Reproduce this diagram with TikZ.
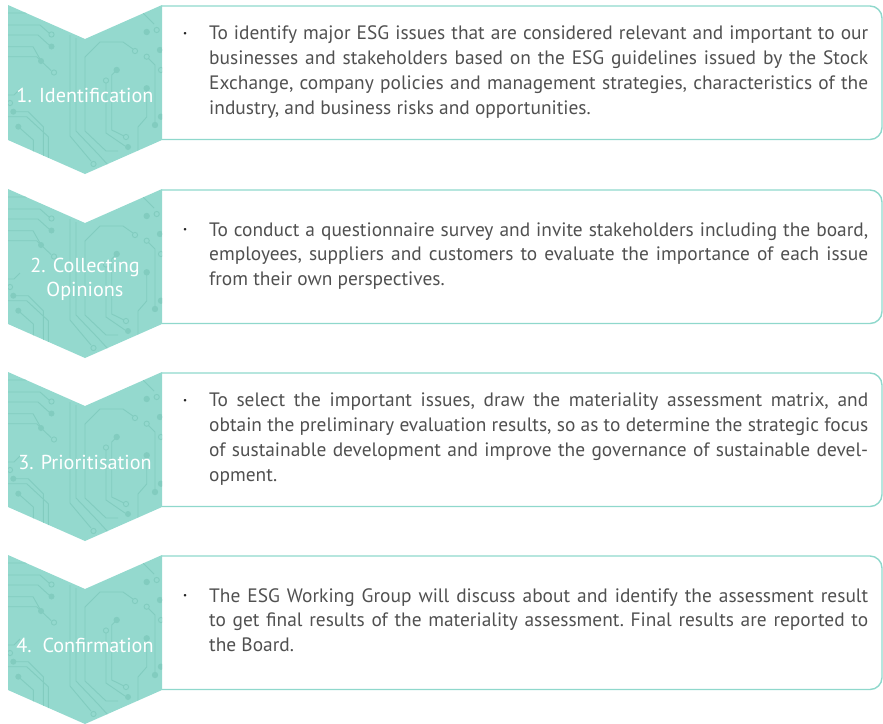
\documentclass[tikz,border=0pt]{standalone}
\usepackage{fontspec}
\setmainfont{PT Sans}

\definecolor{chev}{HTML}{94D9CE}
\definecolor{trace}{HTML}{82CCBF}
\definecolor{frame}{HTML}{8FD8CC}
\definecolor{bodygray}{HTML}{505050}

\tikzset{
  chevron/.style={fill=chev, draw=none},
  tracks/.style={draw=trace, line width=0.9pt},
  pad/.style={fill=trace},
  ring/.style={draw=trace, line width=0.9pt, fill=chev},
  frameline/.style={draw=frame, line width=1.4pt, rounded corners=12pt},
  bodytext/.style={text=bodygray, font=\fontsize{19.4}{24.8}\selectfont\frenchspacing,
    text width=659pt, align=justify, inner sep=0pt, anchor=west},
  steplabel/.style={text=white, font=\fontsize{20.2}{24}\selectfont,
    align=center, inner sep=0pt},
}

% decorative circuit traces, local coordinates of one chevron
\newcommand\circuitpattern{%
  \draw[tracks] (-2,20) -- (32,20) -- (41,28);
  \draw[tracks] (-2,30) -- (30,30) -- (41,40);
  \draw[tracks] (-2,41.7) -- (25,41.7) -- (32,54);
  \draw[tracks] (-2,51.7) -- (28.7,51.7) -- (43,65.5);
  \draw[tracks] (-2,8) -- (20,8) -- (26,3);
  \draw[tracks] (62,30) -- (62,131) -- (83,156);
  \draw[tracks] (68,33) -- (68,126) -- (90,149) -- (100,160);
  \draw[tracks] (77,52) -- (77,126) -- (98,146) -- (110,146);
  \draw[tracks] (77,52) -- (92,37) -- (115,37) -- (125,44);
  \draw[tracks] (108.7,65) -- (103.7,70) -- (103.7,125) -- (116,131);
  \draw[tracks] (98,78) -- (98,128) -- (117,141);
  \draw[tracks] (140.5,53.5) -- (147,60) -- (147,118);
  \draw[tracks] (138.7,83.3) -- (138.7,112) -- (130,122) -- (130,150);
  \draw[tracks] (135,8) -- (146,19);
  \draw[tracks] (5.3,106.7) -- (20.3,106.7) -- (35.3,121.7) -- (35.3,160);
  \draw[tracks] (10.3,121.7) -- (25.3,135) -- (25.3,160);
  \draw[tracks] (-2,111.7) -- (18.7,111.7) -- (40.3,131.7) -- (40.3,160);
  \draw[tracks] (-2,90) -- (6,90) -- (12,84);
  \draw[ring] (43.5,29.5) circle (2.6);
  \fill[pad] (43.5,41.5) circle (3);
  \fill[pad] (33,56) circle (3);
  \draw[ring] (46,67.5) circle (2.6);
  \draw[ring] (85.5,159) circle (2.6);
  \draw[ring] (127,46) circle (2.6);
  \fill[pad] (108.7,65) circle (3.2);
  \draw[ring] (118,132) circle (2.6);
  \draw[ring] (98,75.5) circle (2.6);
  \fill[pad] (120,142) circle (3);
  \fill[pad] (138.7,27) circle (3.2);
  \draw[ring] (148.7,25) circle (2.6);
  \fill[pad] (152,45) circle (3.2);
  \draw[ring] (138.7,51.7) circle (2.6);
  \fill[pad] (147,120) circle (3.2);
  \fill[pad] (138.7,83.3) circle (3.2);
  \draw[ring] (153,65) circle (2.6);
  \fill[pad] (153,111.7) circle (3.2);
  \draw[ring] (2,98) circle (2.6);
  \fill[pad] (5.3,106.7) circle (3);
  \fill[pad] (10.3,121.7) circle (3);
}

\newcommand\bulletlead{\strut\llap{\raisebox{3.6pt}{\fontsize{9}{9}\selectfont\color{black!85}•}\hspace{22pt}}}

% #1 top edge, #2 id, #3 stage label, #4 description
\newcommand\esgstage[4]{%
  \begin{scope}[shift={(0,#1)}]
    \draw[frameline] (162,1) -| (882,134.5) -- (162,134.5);
    \path[chevron] (8,0) -- (85,34) -- (162,0) -- (162,135) -- (85,169) -- (8,135) -- cycle;
    \begin{scope}
      \clip (8,0) -- (85,34) -- (162,0) -- (162,135) -- (85,169) -- (8,135) -- cycle;
      \begin{scope}[shift={(8,0)}]\circuitpattern\end{scope}
    \end{scope}
    \node[steplabel] (label#2) at (85,90) {#3};
    \node[bodytext] (text#2) at (209,67) {\bulletlead #4\strut};
  \end{scope}}

\begin{document}
\begin{tikzpicture}[x=1pt,y=-1pt]
  \useasboundingbox (0,0) rectangle (883,723);
  \esgstage{5}{1}{1. Identification}{To identify major ESG issues that are considered relevant and important to our\linebreak businesses and stakeholders based on the ESG guidelines issued by the Stock\linebreak Exchange, company policies and management strategies, characteristics of the\linebreak industry, and business risks and opportunities.}
  \esgstage{189}{2}{2. Collecting\\Opinions}{To conduct a questionnaire survey and invite stakeholders including the board,\linebreak employees, suppliers and customers to evaluate the importance of each issue\linebreak from their own perspectives.}
  \esgstage{372}{3}{3. Prioritisation}{To select the important issues, draw the materiality assessment matrix, and\linebreak obtain the preliminary evaluation results, so as to determine the strategic focus\linebreak of sustainable development and improve the governance of sustainable devel-\linebreak opment.}
  \esgstage{555}{4}{4.\ \ Confirmation}{The ESG Working Group will discuss about and identify the assessment result\linebreak to get final results of the materiality assessment. Final results are reported to\linebreak the Board.}
\end{tikzpicture}
\end{document}
